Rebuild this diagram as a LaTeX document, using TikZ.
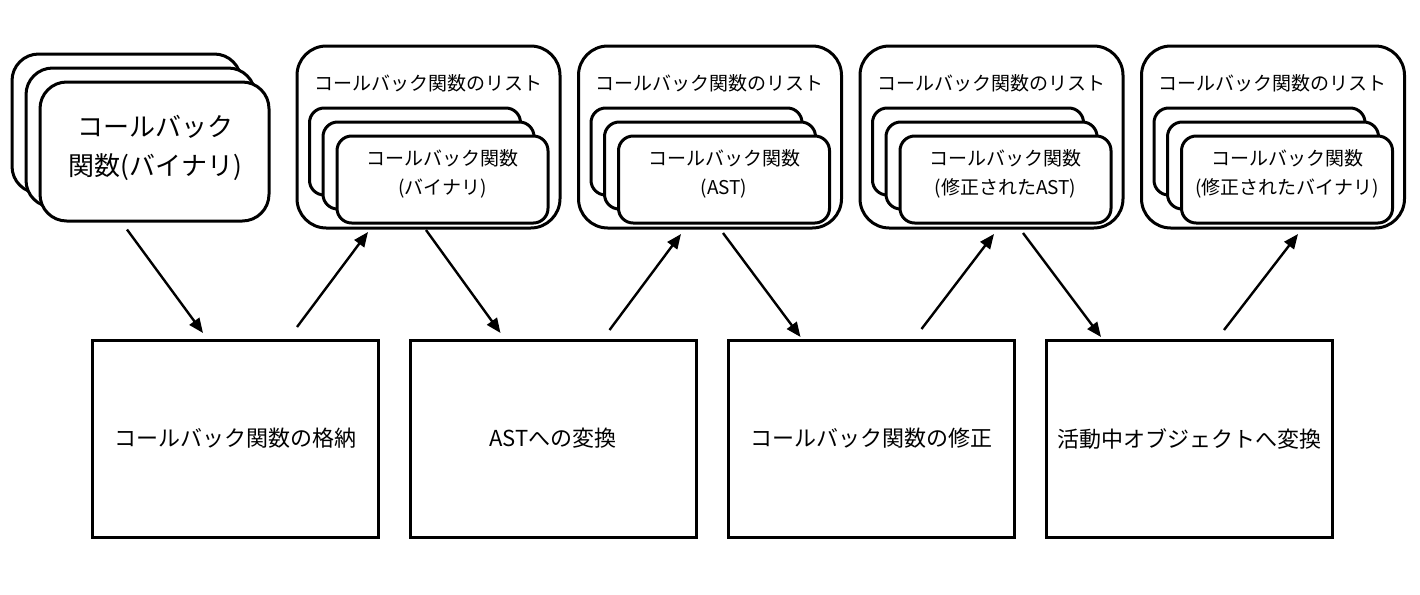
\documentclass[tikz,border=0pt]{standalone}
\usepackage{fontspec}
\setmainfont{Noto Sans CJK JP}
\usetikzlibrary{arrows.meta,calc}
\newcommand\fsbig{\fontsize{19.5pt}{29.25pt}\selectfont}
\newcommand\fsmid{\fontsize{14.25pt}{21.75pt}\selectfont}
\newcommand\fsproc{\fontsize{16.5pt}{20pt}\selectfont}
\begin{document}
\begin{tikzpicture}[x=0.75pt,y=-0.75pt,
  rbox/.style={draw, line width=2.25pt, fill=white, inner sep=0pt, outer sep=0pt},
  bigcard/.style={rbox, rounded corners=20pt, minimum width=171.75pt, minimum height=104.25pt},
  cont/.style={rbox, rounded corners=22pt, minimum width=197.25pt, minimum height=136.5pt},
  card/.style={rbox, rounded corners=11pt, minimum width=158.25pt, minimum height=65.25pt},
  proc/.style={draw, line width=2.25pt, fill=white, inner sep=0pt, outer sep=0pt, minimum width=214.5pt, minimum height=147.75pt, font=\fsproc},
  lbl/.style={inner sep=0pt, align=center},
  arr/.style={line width=1.8pt, -{Triangle[length=11pt,width=9pt]}}
]
\useasboundingbox (0,0) rectangle (1420,594);

% first stack
\node[bigcard] (s1a) at (126.5,123.5) {};
\node[bigcard] (s1b) at (140.5,137.5) {};
\node[bigcard] (s1c) at (154.5,151.5) {};
\node[lbl, font=\fsbig] (s1t) at (155.5,147.5) {コールバック\\関数(バイナリ)};

% list containers
\foreach \i/\txt in {1/{(バイナリ)},2/{(AST)},3/{(修正されたAST)},4/{(修正されたバイナリ)}}{
  \pgfmathsetmacro\L{297+281.5*(\i-1)}
  \node[cont] (L\i) at (\L+131.5,137) {};
  \node[lbl, font=\fsmid] (T\i) at (\L+131,83) {コールバック関数のリスト};
  \node[card] (L\i-a) at (\L+118,151.5) {};
  \node[card] (L\i-b) at (\L+131.5,165.5) {};
  \node[card] (L\i-c) at (\L+145.5,179.5) {};
  \node[lbl, font=\fsmid] (L\i-t) at (\L+145.5,173.5) {コールバック関数\\\txt};
}

% process boxes
\foreach \i/\txt in {1/{コールバック関数の格納},2/{ASTへの変換},3/{コールバック関数の修正},4/{活動中オブジェクトへ変換}}{
  \pgfmathsetmacro\X{235+318*(\i-1)}
  \node[proc] (B\i) at (\X,438.5) {\txt};
}

% arrows
\draw[arr] ($(s1c.south)+(-27.5,8.5)$) -- ($(B1.north)+(-32,-7)$);
\draw[arr] ($(B1.north)+(62,-13)$) -- ($(L1.south)+(-60.5,4)$);
\draw[arr] ($(L1.south)+(-2.5,2)$) -- ($(B2.north)+(-52.5,-7)$);
\draw[arr] ($(B2.north)+(56.5,-10)$) -- ($(L2.south)+(-29,6)$);
\draw[arr] ($(L2.south)+(13,5)$) -- ($(B3.north)+(-70.5,-3)$);
\draw[arr] ($(B3.north)+(50.5,-11)$) -- ($(L3.south)+(2.5,6)$);
\draw[arr] ($(L3.south)+(31.5,5)$) -- ($(B4.north)+(-88,-3)$);
\draw[arr] ($(B4.north)+(35,-10)$) -- ($(L4.south)+(25,6)$);
\end{tikzpicture}
\end{document}
